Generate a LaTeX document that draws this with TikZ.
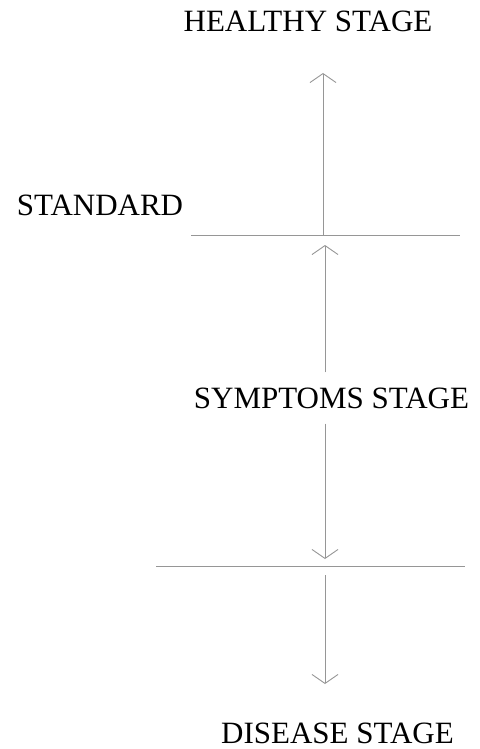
\documentclass[tikz,border=0pt]{standalone}
\usepackage{fontspec}
\setmainfont{Liberation Serif}
\usetikzlibrary{arrows.meta,positioning}
\definecolor{stagegray}{RGB}{150,150,150}
\tikzset{
    % Stage labels
    stagelabel/.style={font=\fontsize{31}{37}\selectfont, inner sep=0pt, text=black},
    % Level lines and arrows between the stages
    levelline/.style={line width=0.9pt, stagegray},
    stagearc/.style={-{Straight Barb[length=9pt,width=26pt]}, line width=0.9pt, stagegray},
}
\begin{document}
\begin{tikzpicture}[x=1pt,y=-1pt]
  \useasboundingbox (0,0) rectangle (479,749);
  \node[stagelabel] (healthy) at (308,21) {HEALTHY STAGE};
  \node[stagelabel] (standard) at (100,205.5) {STANDARD};
  \node[stagelabel, inner ysep=15pt] (symptoms) at (331.5,398) {SYMPTOMS STAGE};
  \node[stagelabel] (disease) at (337.5,733) {DISEASE STAGE};
  % level lines
  \coordinate (stdleft) at (191,235);
  \coordinate (stdright) at (460,235);
  \coordinate (disleft) at (156,566);
  \coordinate (disright) at (465,566);
  \draw[levelline] (stdleft) -- (stdright);
  \draw[levelline] (disleft) -- (disright);
  % arrows
  \coordinate (stdfoot) at (323,235);
  \coordinate (healthytip) at (323,73);
  \coordinate (stdtip) at (325,245);
  \coordinate (distip) at (325,559);
  \coordinate (disfoot) at (325,575);
  \coordinate (downtip) at (325,684);
  \draw[stagearc] (stdfoot) -- (healthytip);
  \draw[stagearc] (symptoms.north -| stdtip) -- (stdtip);
  \draw[stagearc] (symptoms.south -| distip) -- (distip);
  \draw[stagearc] (disfoot) -- (downtip);
\end{tikzpicture}
\end{document}
